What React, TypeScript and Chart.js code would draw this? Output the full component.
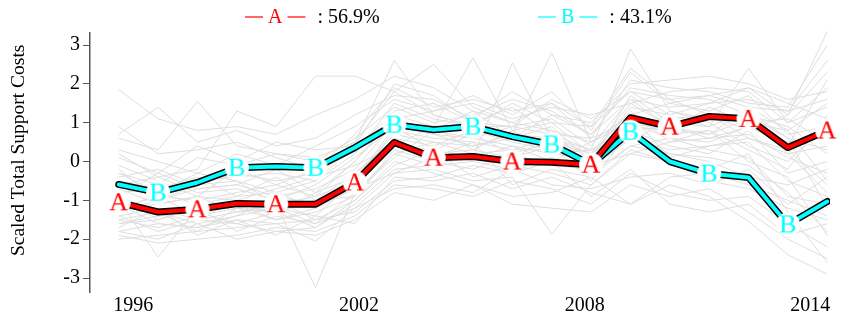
import React, { useEffect, useRef } from 'react';
import { Chart, registerables } from 'chart.js';

Chart.register(...registerables);

const years = [1996, 1997, 1998, 1999, 2000, 2001, 2002, 2003, 2004, 2005, 2006, 2007, 2008, 2009, 2010, 2011, 2012, 2013, 2014];
const seriesA = [-1.05, -1.3, -1.23, -1.08, -1.1, -1.1, -0.54, 0.49, 0.1, 0.13, 0.0, -0.02, -0.08, 1.13, 0.9, 1.16, 1.1, 0.36, 0.8];
const seriesB = [-0.59, -0.8, -0.54, -0.16, -0.13, -0.16, 0.36, 0.95, 0.82, 0.9, 0.64, 0.44, -0.08, 0.77, 0.0, -0.31, -0.41, -1.62, -1.03];
const legendNames = ['A', 'B'];
const legendShares = ['56.9%', '43.1%'];
const legendColors = ['#ff0000', '#00ffff'];
const yTicks = [-3, -2, -1, 0, 1, 2, 3];
const xTickYears = [1996, 2002, 2008, 2014];
const yTitle = 'Scaled Total Support Costs';

const grey01 = [1.85, 1.1, 0.8, 0.9, 0.7, 1.2, 1.6, 2.2, 1.9, 1.3, 1.0, 1.5, 0.9, 1.8, 1.6, 1.7, 1.9, 1.2, 3.35];
const grey02 = [0.6, 0.3, 1.55, 0.4, 0.2, 0.1, 0.5, 2.6, 1.2, 0.9, 0.7, 0.6, 0.3, 2.9, 1.3, 1.1, 1.0, 0.8, 1.5];
const grey03 = [0.2, -0.4, -0.2, 1.3, 0.9, 2.2, 2.2, 1.8, 2.5, 1.4, 1.0, 0.8, 0.5, 1.2, 1.5, 1.7, 1.4, 1.3, 1.6];
const grey04 = [-0.5, -0.9, -1.0, -0.8, -0.6, -0.9, 0.0, 1.2, 0.9, 2.67, 0.8, 1.0, 0.2, 1.5, 0.9, 0.6, 0.7, 0.1, -0.3];
const grey05 = [-1.0, -2.46, -1.2, -1.1, -1.3, -1.0, -0.6, 0.4, 0.3, 0.1, 2.54, 0.6, 0.2, 0.9, 0.8, 0.7, 1.1, 0.2, 0.4];
const grey06 = [-1.4, -1.2, -1.5, -1.3, -1.1, -3.25, -0.8, 0.2, 0.5, 0.4, 0.7, 2.8, 0.5, 1.0, 0.6, 0.5, 0.9, 0.5, 0.7];
const grey07 = [-1.8, -1.6, -1.7, -1.5, -1.6, -2.05, -1.2, -0.3, -0.2, -0.5, -0.4, -1.87, -0.6, 0.3, 0.0, -0.5, -0.7, -1.2, -1.5];
const grey08 = [-2.0, -1.9, -1.8, -1.7, -1.6, -1.5, -1.0, 0.0, -0.3, -0.6, -0.9, -0.8, -0.4, -1.1, -0.6, -0.9, -1.54, -2.4, -2.9];
const grey09 = [-1.2, -1.1, -0.9, -1.3, -1.2, -1.4, -0.5, 0.8, 0.6, 0.5, 0.3, 0.6, 0.1, 1.4, 1.2, 0.9, 2.4, 1.0, 1.9];
const grey10 = [-0.8, -0.7, -0.5, -0.4, -0.3, -0.5, 0.2, 1.5, 1.1, 0.9, 0.9, 1.1, 0.4, 1.6, 1.4, 1.5, 1.6, 1.3, 2.6];
const grey11 = [-1.6, -1.4, -1.3, -1.6, -1.8, -1.7, -1.1, -0.2, -0.1, 0.0, -0.2, 0.1, -0.3, 0.4, 0.2, 0.1, -0.1, -0.8, -1.8];
const grey12 = [-0.3, -0.6, 0.1, -0.1, 0.2, 0.0, 0.6, 1.4, 1.0, 1.2, 1.6, 1.3, 0.7, 1.9, 1.7, 1.6, 1.2, 0.9, 0.2];
const grey13 = [-1.5, -1.7, -1.4, -1.2, -1.5, -1.3, -0.9, 0.3, 0.0, -0.2, 0.2, -0.1, -0.2, 0.6, 0.3, 0.4, 0.5, -0.5, -0.9];
const grey14 = [-1.1, -1.3, -1.6, -1.4, -0.9, -1.1, -0.7, 0.6, 0.4, 0.8, 0.5, 0.3, -0.1, 1.1, 0.7, 0.8, 0.3, -0.2, 1.2];
const grey15 = [-0.2, -1.0, -0.7, -0.6, -0.9, -0.7, -0.2, 1.0, 0.7, 0.4, 0.6, 0.9, 0.0, 1.7, 1.0, 0.9, 1.3, 0.6, -1.2];
const grey16 = [-1.9, -2.1, -2.0, -1.9, -1.7, -1.8, -1.4, -0.6, -0.7, -0.9, -0.5, -0.7, -1.1, -0.3, -0.8, -1.0, -0.9, -1.6, -2.2];
const grey17 = [0.9, 0.2, 0.3, 0.5, 0.1, -0.2, 0.7, 1.9, 1.4, 1.6, 1.3, 1.5, 0.6, 2.1, 1.9, 1.8, 1.5, 1.4, 3.0];
const grey18 = [-1.3, -0.8, -1.1, -0.9, -0.8, -1.2, -0.3, 0.5, 0.2, 0.3, 0.1, 0.4, -0.5, 0.8, 0.4, 0.2, 0.8, -0.3, 0.0];
const grey19 = [-0.9, -1.5, -1.2, -1.8, -1.4, -1.6, -0.8, 0.1, 0.8, 0.6, 0.4, 0.2, 0.3, 0.5, 1.1, 1.2, 0.6, 0.3, -0.6];
const grey20 = [-1.7, -1.2, -1.9, -1.5, -1.9, -1.4, -1.6, -0.4, -0.5, -0.3, -0.7, -0.4, -0.8, -1.1, -0.4, -0.3, -0.6, -1.0, -1.4];
const grey21 = [0.3, 0.0, -0.3, 0.2, -0.1, 0.4, 0.9, 1.6, 1.3, 1.7, 1.2, 1.8, 0.8, 2.3, 1.5, 1.3, 1.7, 0.7, 0.9];
const grey22 = [-0.6, -0.4, -0.8, -0.7, -1.0, -0.6, 0.1, 0.9, 0.3, 0.7, 0.2, 0.5, 0.2, 1.3, 0.5, 0.6, 0.9, 0.4, 2.1];
const grey23 = [-1.4, -1.8, -1.5, -1.6, -1.3, -1.7, -1.0, -0.1, 0.3, -0.4, -0.1, -0.3, -0.6, 0.2, 0.0, -0.2, 0.2, -1.3, -2.6];
const grey24 = [-0.4, -0.2, -0.6, -0.3, -0.5, -0.3, 0.3, 1.3, 1.5, 1.0, 1.4, 0.7, 0.6, 1.0, 0.8, 1.4, 1.0, 1.1, 0.5];
const grey25 = [-1.0, -1.4, -1.3, -1.0, -1.4, -0.8, -0.4, 0.7, 0.5, 0.2, 0.0, 0.8, -0.2, 0.7, 0.2, 0.0, -0.4, -0.6, -0.2];
const grey26 = [0.7, 1.4, 0.5, 0.8, 0.4, 0.6, 1.2, 1.7, 1.6, 1.1, 1.8, 1.2, 1.0, 2.0, 2.1, 2.2, 2.0, 1.6, 1.8];
const grey27 = [-1.6, -1.5, -1.1, -1.2, -1.0, -1.5, -1.3, -0.5, -0.4, -0.1, -0.3, 0.0, -0.9, -0.2, -1.1, -1.3, -1.1, -1.9, -1.6];
const grey28 = [-0.7, -1.1, -0.9, -1.0, -0.7, -0.4, -0.1, 0.4, 0.9, 0.3, 0.8, 0.2, 0.1, 0.6, 1.3, 1.0, 0.4, 0.0, 1.0];
const grey29 = [-1.2, -0.9, -1.4, -1.1, -1.5, -1.2, -0.7, -0.3, 0.1, 0.5, -0.6, -0.2, -0.4, 0.4, 0.6, 0.3, 0.1, -0.9, -1.1];
const grey30 = [-1.8, -2.0, -1.6, -2.0, -1.8, -1.9, -1.5, -0.8, -1.0, -0.6, -1.1, -1.2, -1.3, -0.6, -0.9, -0.7, -1.3, -2.0, -2.5];
const grey31 = [0.1, -0.3, 0.4, 0.0, 0.5, 0.3, 0.4, 1.1, 1.3, 1.5, 1.1, 1.4, 1.2, 1.5, 1.8, 1.9, 1.8, 1.0, 1.4];
const grey32 = [-0.5, -0.7, -0.4, -0.9, -0.4, -1.0, -0.3, 0.6, 0.0, 0.1, 0.4, 0.0, 0.5, 1.2, 0.1, 0.4, 0.6, 0.2, -0.8];
const grey33 = [-1.3, -1.0, -0.6, -0.5, -1.1, -0.9, -0.5, 0.9, 0.7, 0.6, 0.9, 0.7, 0.3, 0.9, 1.0, 1.1, 1.2, 0.6, 0.3];
const grey34 = [-0.1, -0.5, -0.9, -0.2, -0.6, -0.2, 0.5, 1.8, 1.2, 0.9, 1.5, 1.0, 0.9, 2.4, 1.6, 1.2, 0.8, 1.2, 2.3];
const grey35 = [-1.1, -1.6, -1.7, -1.4, -1.2, -1.6, -1.2, -0.7, -0.6, -0.8, -0.2, -0.6, -0.7, -0.4, -0.3, -0.6, -0.2, -1.1, -0.4];
const grey36 = [-0.9, -0.3, -0.7, -0.6, -0.2, -0.8, 0.0, 1.1, 0.8, 1.3, 0.6, 1.2, 0.7, 1.6, 0.9, 0.7, 1.4, 0.8, -0.5];
const grey37 = [-1.5, -1.3, -1.8, -1.2, -1.3, -1.0, -0.9, 0.2, -0.1, 0.2, 0.3, 0.3, -0.1, 0.2, 0.5, 0.8, 0.0, -0.4, -1.9];
const grey38 = [-0.3, -0.8, -0.3, -0.5, -0.8, -0.5, 0.4, 2.0, 1.7, 1.0, 0.9, 1.6, 1.1, 1.8, 1.2, 1.5, 1.9, 1.5, 1.1];

const greySeries = [
  grey01, grey02, grey03, grey04, grey05, grey06, grey07, grey08, grey09, grey10,
  grey11, grey12, grey13, grey14, grey15, grey16, grey17, grey18, grey19, grey20,
  grey21, grey22, grey23, grey24, grey25, grey26, grey27, grey28, grey29, grey30,
  grey31, grey32, grey33, grey34, grey35, grey36, grey37, grey38,
];

const SERIF = '"Liberation Serif", "Times New Roman", serif';

function toPoints(values: number[]) {
  return values.map((v, i) => ({ x: years[i], y: v }));
}

function makeMarker(letter: string, color: string) {
  const c = document.createElement('canvas');
  c.width = 26;
  c.height = 26;
  const g = c.getContext('2d')!;
  g.fillStyle = '#ffffff';
  g.beginPath();
  g.arc(13, 13, 12, 0, Math.PI * 2);
  g.fill();
  g.fillStyle = color;
  g.font = `26px ${SERIF}`;
  g.textAlign = 'center';
  g.textBaseline = 'middle';
  g.fillText(letter, 13, 14.5);
  return c;
}

const legendPlugin = {
  id: 'topLegend',
  afterDraw(chart: any) {
    const ctx = chart.ctx;
    ctx.save();
    ctx.font = `20px ${SERIF}`;
    ctx.textBaseline = 'middle';
    const starts = [245, 538];
    const y = 17;
    legendNames.forEach((name, i) => {
      let x = starts[i];
      ctx.strokeStyle = legendColors[i];
      ctx.lineWidth = 1.2;
      ctx.beginPath();
      ctx.moveTo(x, y);
      ctx.lineTo(x + 18, y);
      ctx.stroke();
      x += 23;
      ctx.fillStyle = legendColors[i];
      ctx.textAlign = 'left';
      ctx.fillText(name, x, y + 1);
      x += ctx.measureText(name).width + 5;
      ctx.beginPath();
      ctx.moveTo(x, y);
      ctx.lineTo(x + 18, y);
      ctx.stroke();
      x += 30;
      ctx.fillStyle = '#000000';
      ctx.fillText(': ' + legendShares[i], x, y + 1);
    });
    ctx.restore();
  },
};

export default function App() {
  const canvasRef = useRef<HTMLCanvasElement | null>(null);

  useEffect(() => {
    const canvas = canvasRef.current;
    if (!canvas) return;
    const markerA = makeMarker(legendNames[0], legendColors[0]);
    const markerB = makeMarker(legendNames[1], legendColors[1]);

    const greyDatasets = greySeries.map((s) => ({
      data: toPoints(s),
      borderColor: '#dedede',
      borderWidth: 1,
      pointRadius: 0,
      fill: false,
      clip: false as any,
      order: 20,
    }));

    const chart = new Chart(canvas, {
      type: 'line',
      data: {
        datasets: [
          ...greyDatasets,
          {
            data: toPoints(seriesB), borderColor: '#000000', borderWidth: 7, pointRadius: 0,
            borderCapStyle: 'round', borderJoinStyle: 'round', order: 8,
          },
          {
            data: toPoints(seriesB), borderColor: legendColors[1], borderWidth: 4, pointRadius: 0,
            borderCapStyle: 'round', borderJoinStyle: 'round', order: 7,
          },
          {
            data: toPoints(seriesA), borderColor: '#000000', borderWidth: 7, pointRadius: 0,
            borderCapStyle: 'round', borderJoinStyle: 'round', order: 6,
          },
          {
            data: toPoints(seriesA), borderColor: legendColors[0], borderWidth: 4, pointRadius: 0,
            borderCapStyle: 'round', borderJoinStyle: 'round', order: 5,
          },
          {
            data: toPoints(seriesB), showLine: false, order: 2,
            pointStyle: (ctx: any) => (ctx.dataIndex % 2 === 1 ? markerB : false),
            pointRadius: (ctx: any) => (ctx.dataIndex % 2 === 1 ? 12 : 0),
            clip: false as any,
          },
          {
            data: toPoints(seriesA), showLine: false, order: 1,
            pointStyle: (ctx: any) => (ctx.dataIndex % 2 === 0 ? markerA : false),
            pointRadius: (ctx: any) => (ctx.dataIndex % 2 === 0 ? 12 : 0),
            clip: false as any,
          },
        ] as any,
      },
      options: {
        animation: false,
        responsive: false,
        maintainAspectRatio: false,
        layout: { padding: { top: 33, right: 0, left: 0, bottom: 0 } },
        plugins: { legend: { display: false }, tooltip: { enabled: false }, title: { display: false } },
        scales: {
          x: {
            type: 'linear',
            display: false,
            min: 1995.27,
            max: 2014.07,
          },
          x2: {
            type: 'linear',
            position: 'bottom',
            min: 1994.851,
            max: 2014.522,
            afterBuildTicks: (s: any) => {
              s.ticks = xTickYears.map((v) => ({ value: v }));
            },
            grid: { display: false, drawTicks: false },
            border: { display: false },
            ticks: {
              color: '#000000',
              font: { family: SERIF, size: 20 },
              padding: 2,
              maxRotation: 0,
              autoSkip: false,
              callback: (v: any) => String(v),
            },
          },
          y: {
            type: 'linear',
            min: -3.36,
            max: 3.31,
            afterBuildTicks: (s: any) => {
              s.ticks = yTicks.map((v) => ({ value: v }));
            },
            afterFit: (s: any) => {
              s.width = 90;
            },
            grid: { drawOnChartArea: false, drawTicks: true, tickLength: 7, color: '#555555', lineWidth: 1 },
            border: { display: true, color: '#555555', width: 1.5 },
            ticks: {
              color: '#000000',
              font: { family: SERIF, size: 20 },
              padding: 3,
              callback: (v: any) => String(v),
            },
            title: {
              display: true,
              text: '\u00a0\u00a0\u00a0\u00a0\u00a0' + yTitle,
              color: '#000000',
              font: { family: SERIF, size: 19.5 },
              padding: { top: 7, bottom: 0 },
            },
          },
        },
      } as any,
      plugins: [legendPlugin],
    });

    return () => chart.destroy();
  }, []);

  return (
    <div style={{ position: 'fixed', left: 0, top: 0, width: 843, height: 320, background: '#ffffff' }}>
      <canvas ref={canvasRef} width={843} height={320} style={{ display: 'block' }} />
    </div>
  );
}
